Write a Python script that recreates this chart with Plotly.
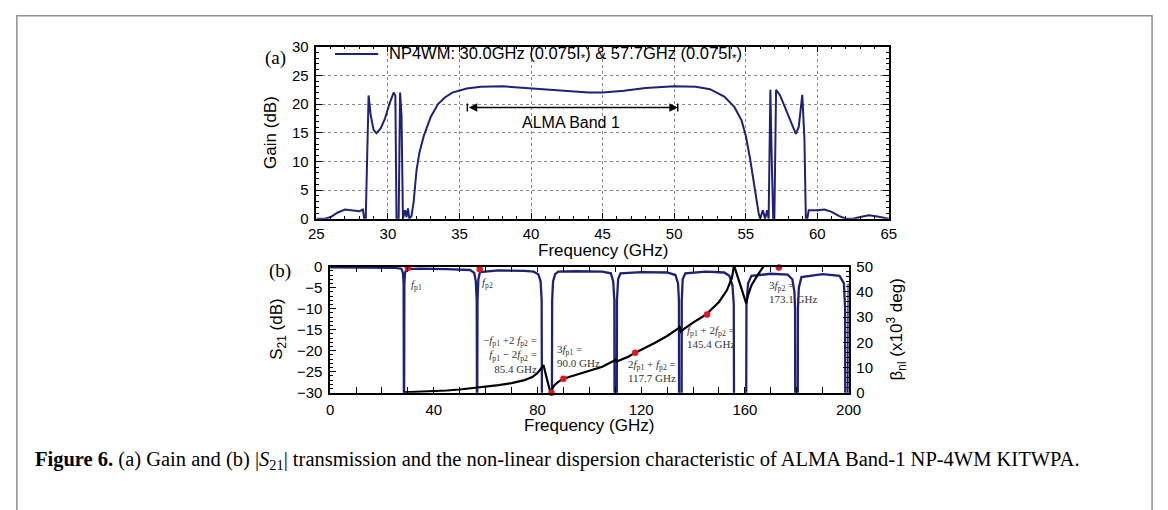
import plotly.graph_objects as go

W, H = 1168, 510

# ---------------- Panel (a): gain ----------------
gain_freq = [25.0, 25.6, 26.0, 26.5, 27.0, 27.5, 28.0, 28.25, 28.35, 28.45, 28.55, 28.65,
             28.8, 29.0, 29.2, 29.5, 29.8, 30.1, 30.4, 30.52, 30.6, 30.75, 30.85, 30.95,
             31.05, 31.2, 31.3, 31.4, 31.5, 31.65, 31.8, 32.0, 32.2, 32.5, 33.0, 33.5,
             34.0, 34.5, 35.5, 36.5, 38.0, 40.0, 42.0, 44.0, 45.0, 46.5, 48.0, 50.0,
             51.5, 52.5, 53.5, 54.2, 54.7, 55.0, 55.3, 55.6, 55.9, 56.0, 56.2, 56.35,
             56.5, 56.6, 56.72, 56.82, 56.92, 57.0, 57.12, 57.4, 57.8, 58.2, 58.5, 58.7,
             58.95, 59.1, 59.2, 59.3, 59.4, 60.0, 60.5, 61.0, 61.5, 62.0, 62.5, 63.0,
             63.6, 64.2, 65.0]
gain_db = [0.0, 0.0, 0.3, 1.1, 1.6, 1.5, 1.3, 1.6, 0.0, 0.0, 14.0, 21.5,
           18.0, 15.5, 14.9, 15.8, 17.5, 20.0, 22.0, 21.5, 0.0, 0.0, 22.0, 18.0,
           0.0, 1.5, 0.3, 1.8, 0.0, 0.5, 3.0, 8.5, 11.5, 14.4, 17.8, 20.0,
           21.2, 22.0, 22.7, 23.0, 23.1, 22.7, 22.3, 22.0, 22.0, 22.3, 22.8, 23.1,
           23.0, 22.6, 21.3, 19.5, 17.2, 14.5, 10.5, 5.5, 1.0, 0.0, 1.5, 0.0,
           1.5, 0.0, 22.5, 10.0, 0.0, 0.0, 22.5, 21.5, 19.0, 16.5, 14.8, 16.0,
           21.6, 14.0, 0.0, 0.0, 1.5, 1.5, 1.6, 1.2, 0.5, 0.0, 0.0, 0.3,
           0.6, 0.4, 0.0]
legend_label = "NP4WM: 30.0GHz (0.075I<sub>*</sub>) &amp; 57.7GHz (0.075I<sub>*</sub>)"
alma_band = [35.55, 50.25]
alma_level = 19.4
alma_label = "ALMA Band 1"
alma_label_pos = [42.8, 16.8]

# ---------------- Panel (b): S21 and beta_nl ----------------
s21_freq = [0, 5, 15, 25, 27.5, 28.1, 28.35, 28.5, 28.65, 28.9, 29.5, 35, 45, 54,
            55.6, 56.2, 56.55, 56.7, 56.85, 57.2, 57.8, 65, 75, 78.5, 80.3, 81.2,
            81.6, 81.75, 85.5, 85.65, 86.0, 86.8, 88, 95, 105, 108.3, 109.2, 109.65,
            109.75, 110.55, 110.65, 111.1, 112, 120, 130, 133.2, 134.2, 134.55, 134.65,
            135.55, 135.65, 136.0, 137, 145, 152, 154.0, 155.2, 155.7, 155.85, 160.45,
            160.6, 161.2, 162.5, 170, 176.5, 178.3, 179.1, 179.35, 179.45, 180.35,
            180.45, 180.8, 181.8, 190, 196.5, 198.2, 198.65, 198.75, 199.6, 199.7, 200]
s21_db = [-0.2, -0.2, -0.2, -0.3, -0.5, -1.5, -4, -45, -4, -1.5, -0.6, -0.5, -0.6, -0.8,
          -1.5, -3.5, -8, -45, -8, -3, -1.3, -0.9, -1.0, -1.2, -1.8, -3.5,
          -8, -45, -45, -8, -3.5, -1.8, -1.2, -1.1, -1.2, -1.6, -3.5, -8,
          -45, -45, -8, -3, -1.6, -1.3, -1.4, -2, -4, -8, -45,
          -45, -8, -3, -1.6, -1.2, -1.4, -2.2, -4.5, -9, -45, -45,
          -9, -4, -2.2, -1.7, -1.9, -3, -6, -10, -45, -45,
          -10, -5, -2.5, -1.8, -2.2, -4, -10, -45, -45, -10, -4]

beta_freq = [28.5, 35, 40, 45, 50, 55, 56.7, 57.2, 60, 65, 70, 75, 78, 80, 81.5,
             82.3, 83.5, 84.8, 85.3, 85.7, 86.5, 88, 90, 95, 100, 105, 109.7, 110.0,
             110.5, 111.5, 115, 117.7, 120, 125, 130, 134.3, 134.8, 135.3, 136.5, 140,
             145, 150, 153, 155, 155.8, 158, 160.5, 161.3, 162.5, 165, 167.5]
beta_kdeg = [0.2, 0.4, 0.6, 0.9, 1.3, 1.8, 2.0, 2.1, 2.4, 3.0, 3.8, 5.0, 6.2, 7.8, 9.8,
             11.0, 6.0, 0.8, 0.2, 1.5, 3.0, 4.3, 5.6, 7.2, 8.7, 10.3, 12.8, 13.4,
             12.4, 12.8, 14.3, 15.9, 17.0, 19.6, 22.5, 25.5, 26.4, 24.2, 25.3, 27.8,
             31.0, 36.0, 40.5, 45.5, 50.5, 43.0, 35.4, 39.0, 42.5, 46.8, 50.5]

mark_freq = [30.0, 57.7, 85.4, 90.0, 117.7, 145.4, 173.1]
mark_kdeg = [49.5, 49.0, 0.0, 5.6, 15.9, 31.0, 49.7]

mix_text = [
    "<i>f</i><sub>p1</sub>",
    "<i>f</i><sub>p2</sub>",
    "\u2212<i>f</i><sub>p1</sub> +2 <i>f</i><sub>p2</sub> =<br><i>f</i><sub>p1</sub> \u2212 2<i>f</i><sub>p2</sub> =<br>85.4 GHz",
    "3<i>f</i><sub>p1</sub> =<br>90.0 GHz",
    "2<i>f</i><sub>p1</sub> + <i>f</i><sub>p2</sub> =<br>117.7 GHz",
    "<i>f</i><sub>p1</sub> + 2<i>f</i><sub>p2</sub> =<br>145.4 GHz",
    "3<i>f</i><sub>p2</sub> =<br>173.1 GHz",
]
mix_x = [30.3, 57.9, 80.7, 86.6, 114.0, 137.0, 168.7]
mix_y = [-4.3, -4.0, -21.0, -21.3, -24.9, -16.8, -6.1]
mix_anchor = ["left", "left", "right", "left", "left", "left", "left"]

caption = ("<b>Figure 6.</b> (a) Gain and (b) |<i>S</i><sub>21</sub>| transmission and the "
           "non-linear dispersion characteristic of ALMA Band-1 NP-4WM KITWPA.")

# ---------------- styling ----------------
NAVY = "#1e2178"
SANS = "Liberation Sans"
SERIF = "Liberation Serif"
TICKF = dict(family=SANS, size=15, color="black")
TITLEF = dict(family=SANS, size=17, color="black")


def px(xp):
    return xp / W


def py(yp):
    return 1 - yp / H


# plot-area pixel boxes
A = dict(l=314, r=897, t=39, b=217)
B = dict(l=328, r=856, t=266.5, b=397)

axis_common = dict(showline=True, linecolor="black", linewidth=1.5, ticks="inside",
                   ticklen=6, tickwidth=1, tickcolor="black", tickfont=TICKF,
                   zeroline=False)

fig = go.Figure()
fig.add_trace(go.Scatter(x=gain_freq, y=gain_db, mode="lines", name="gain",
                         line=dict(color=NAVY, width=2), xaxis="x", yaxis="y",
                         showlegend=False))
fig.add_trace(go.Scatter(x=s21_freq, y=s21_db, mode="lines", name="S21",
                         line=dict(color=NAVY, width=2.3), xaxis="x2", yaxis="y2",
                         showlegend=False))
fig.add_trace(go.Scatter(x=beta_freq, y=beta_kdeg, mode="lines", name="beta",
                         line=dict(color="black", width=2.2), xaxis="x2", yaxis="y3",
                         showlegend=False))
fig.add_trace(go.Scatter(x=mark_freq, y=mark_kdeg, mode="markers", name="mix",
                         marker=dict(color="#e8161b", size=6.5), xaxis="x2", yaxis="y3",
                         showlegend=False, cliponaxis=False))

fig.update_layout(
    width=W, height=H, margin=dict(l=0, r=0, t=0, b=0),
    paper_bgcolor="white", plot_bgcolor="white", showlegend=False,
    xaxis=dict(domain=[px(A["l"]), px(A["r"])], range=[25, 65], anchor="y",
               dtick=5, tick0=0, mirror="allticks", showgrid=True, gridcolor="#8a8a8a",
               griddash="dot", gridwidth=1,
               minor=dict(ticks="inside", ticklen=3, dtick=1, tickcolor="black",
                          showgrid=False),
               **axis_common),
    yaxis=dict(domain=[py(A["b"]), py(A["t"])], range=[0, 30], anchor="x",
               dtick=5, tick0=0, mirror="allticks", showgrid=True, gridcolor="#8a8a8a",
               griddash="dot", gridwidth=1, ticklabelstandoff=3,
               minor=dict(ticks="inside", ticklen=3, dtick=1, tickcolor="black",
                          showgrid=False),
               **axis_common),
    xaxis2=dict(domain=[px(B["l"]), px(B["r"])], range=[0, 200], anchor="y2",
                dtick=40, tick0=0, mirror="allticks", showgrid=False,
                ticklabelstandoff=2,
                minor=dict(ticks="inside", ticklen=3, dtick=10, tickcolor="black",
                           showgrid=False),
                **axis_common),
    yaxis2=dict(domain=[py(B["b"]), py(B["t"])], range=[-30, 0], anchor="x2",
                dtick=5, tick0=0, showgrid=False, ticklabelstandoff=3,
                minor=dict(ticks="inside", ticklen=3, dtick=1, tickcolor="black",
                           showgrid=False),
                **axis_common),
    yaxis3=dict(overlaying="y2", side="right", range=[0, 50], anchor="x2",
                dtick=10, tick0=0, showgrid=False, ticklabelstandoff=3,
                minor=dict(ticks="inside", ticklen=3, dtick=2, tickcolor="black",
                           showgrid=False),
                **axis_common),
)

shapes = []
annotations = []

# outer frame of the figure
shapes.append(dict(type="rect", xref="paper", yref="paper", x0=px(9), x1=px(1165),
                   y0=-0.05, y1=py(7), line=dict(color="#8f8f8f", width=1.5),
                   fillcolor="rgba(0,0,0,0)", layer="above"))

# legend of panel (a)
shapes.append(dict(type="rect", xref="paper", yref="paper", x0=px(322), x1=px(756),
                   y0=py(56), y1=py(40.5), line=dict(width=0), fillcolor="white",
                   layer="between"))
shapes.append(dict(type="line", xref="paper", yref="paper", x0=px(333), x1=px(377),
                   y0=py(46.5), y1=py(46.5), line=dict(color=NAVY, width=2)))
annotations.append(dict(xref="paper", yref="paper", x=px(386), y=py(46.5),
                        xanchor="left", yanchor="middle", showarrow=False,
                        text=legend_label, font=dict(family=SANS, size=16.5, color="black")))

# ALMA band marker
annotations.append(dict(xref="x", yref="y", axref="x", ayref="y",
                        x=alma_band[1], y=alma_level, ax=alma_band[0], ay=alma_level,
                        text="", showarrow=True, arrowside="end+start", arrowhead=2,
                        arrowsize=1.2, arrowwidth=1.4, arrowcolor="black",
                        standoff=0, startstandoff=0))
for xb in alma_band:
    shapes.append(dict(type="line", xref="x", yref="y", x0=xb, x1=xb,
                       y0=alma_level - 0.7, y1=alma_level + 0.7,
                       line=dict(color="black", width=1.4)))
annotations.append(dict(xref="x", yref="y", x=alma_label_pos[0], y=alma_label_pos[1],
                        text=alma_label, showarrow=False, xanchor="center",
                        yanchor="middle", font=dict(family=SANS, size=16, color="black")))

# mixing-product labels in panel (b)
for t, xv, yv, anc in zip(mix_text, mix_x, mix_y, mix_anchor):
    annotations.append(dict(xref="x2", yref="y2", x=xv, y=yv, text=t, showarrow=False,
                            xanchor=anc, yanchor="middle", align=anc,
                            font=dict(family=SERIF, size=11, color="#333333")))

# axis titles, panel letters and caption
annotations += [
    dict(xref="paper", yref="paper", x=px((A["l"] + A["r"]) / 2), y=py(250),
         text="Frequency (GHz)", showarrow=False, font=TITLEF,
         xanchor="center", yanchor="middle"),
    dict(xref="paper", yref="paper", x=px(268), y=py((A["t"] + A["b"]) / 2),
         text="Gain (dB)", textangle=-90, showarrow=False, font=TITLEF,
         xanchor="center", yanchor="middle"),
    dict(xref="paper", yref="paper", x=px((B["l"] + B["r"]) / 2), y=py(431),
         text="Frequency (GHz)", showarrow=False, font=TITLEF,
         xanchor="center", yanchor="middle"),
    dict(xref="paper", yref="paper", x=px(275), y=py((B["t"] + B["b"]) / 2),
         text="S<sub>21</sub> (dB)", textangle=-90, showarrow=False, font=TITLEF,
         xanchor="center", yanchor="middle"),
    dict(xref="paper", yref="paper", x=px(905), y=py((B["t"] + B["b"]) / 2),
         text="\u03b2<sub>nl</sub> (x10<sup>3</sup> deg)", textangle=-90,
         showarrow=False, font=TITLEF, xanchor="center", yanchor="middle"),
    dict(xref="paper", yref="paper", x=px(272), y=py(51), text="(a)",
         xanchor="center", yanchor="middle", showarrow=False,
         font=dict(family=SERIF, size=19, color="black")),
    dict(xref="paper", yref="paper", x=px(277), y=py(271), text="(b)",
         xanchor="center", yanchor="middle", showarrow=False,
         font=dict(family=SERIF, size=19, color="black")),
    dict(xref="paper", yref="paper", x=px(25), y=py(467), text=caption,
         xanchor="left", yanchor="middle", showarrow=False,
         font=dict(family=SERIF, size=20.5, color="black")),
]

fig.update_layout(shapes=shapes, annotations=annotations)
fig.write_html("out.html")
